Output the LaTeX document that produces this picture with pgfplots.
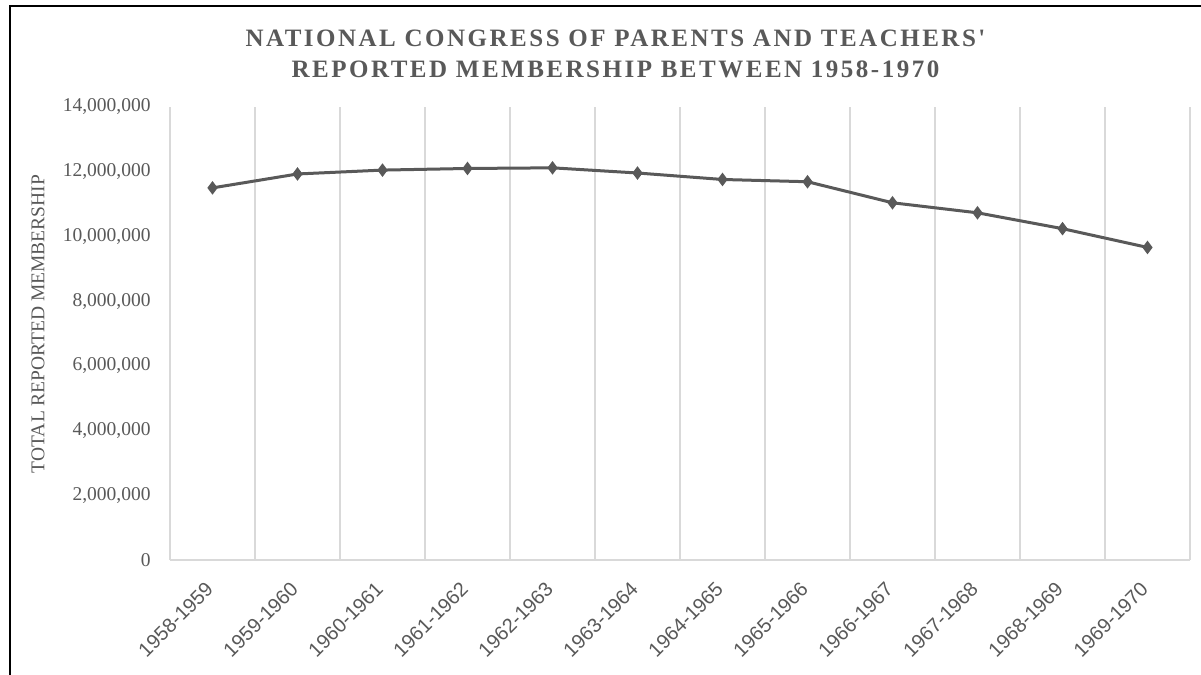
\documentclass[border=0pt]{standalone}
\usepackage{fontspec}
\setmainfont{Liberation Serif}
\newfontfamily\arialfont{Liberation Sans}
\newfontfamily\titlefont[LetterSpace=10]{Liberation Serif}
\usepackage{pgfplots}
\pgfplotsset{compat=1.18}
\definecolor{txt}{HTML}{595959}
\definecolor{grd}{HTML}{D9D9D9}
\definecolor{ln}{HTML}{595959}
\begin{document}
\begin{tikzpicture}
\useasboundingbox (0,0) rectangle (600.5pt,337.5pt);
\fill[white] (0,0) rectangle (600.5pt,337.5pt);
\begin{axis}[
  at={(85pt,57.5pt)}, anchor=south west,
  scale only axis, width=510pt, height=226.5pt,
  xmin=-0.5, xmax=11.5, ymin=0, ymax=14000000,
  xtick={0,...,11},
  xticklabels={1958-1959,1959-1960,1960-1961,1961-1962,1962-1963,1963-1964,1964-1965,1965-1966,1966-1967,1967-1968,1968-1969,1969-1970},
  minor xtick={-0.5,0.5,...,11.5},
  xminorgrids=true,
  minor grid style={grd, line width=0.75pt},
  ytick={0,2000000,...,14000000},
  scaled y ticks=false,
  /pgf/number format/fixed,
  /pgf/number format/1000 sep={,},
  /pgf/number format/assume math mode=true,
  major tick length=0pt, minor tick length=0pt,
  axis x line=bottom, axis y line=left,
  x axis line style={grd, line width=0.75pt, -},
  y axis line style={draw=none},
  tick label style={text=txt},
  yticklabel style={font=\fontsize{9.75pt}{11pt}\selectfont, inner sep=0pt, anchor=east},
  yticklabel shift=9.5pt,
  xticklabel style={font=\arialfont\fontsize{10pt}{11pt}\selectfont, xshift=-4pt, rotate=45, anchor=north east, inner sep=0pt},
  xticklabel shift=10pt,
  clip=false,
]
\addplot[ln, line width=1.5pt, mark=diamond*, mark size=3pt, mark options={fill=ln, draw=ln, line width=0.5pt}]
coordinates {
(0,11500000) (1,11930000) (2,12050000) (3,12100000) (4,12120000) (5,11960000)
(6,11760000) (7,11690000) (8,11040000) (9,10730000) (10,10240000) (11,9660000)
};
\end{axis}
\node[rotate=90, anchor=center, text=txt, font=\fontsize{9.75pt}{11pt}\selectfont] at (19pt,175.5pt) {TOTAL REPORTED MEMBERSHIP};
\node[anchor=base, text=txt, font=\titlefont\bfseries\fontsize{12.5pt}{14pt}\selectfont] at (307.75pt,314.25pt) {NATIONAL CONGRESS OF PARENTS AND TEACHERS'};
\node[anchor=base, text=txt, font=\titlefont\bfseries\fontsize{12.5pt}{14pt}\selectfont] at (307.75pt,298.5pt) {REPORTED MEMBERSHIP BETWEEN 1958-1970};
\draw[black, line width=1pt] (5pt,0) -- (5pt,334.5pt) -- (600.5pt,334.5pt);
\end{tikzpicture}
\end{document}
